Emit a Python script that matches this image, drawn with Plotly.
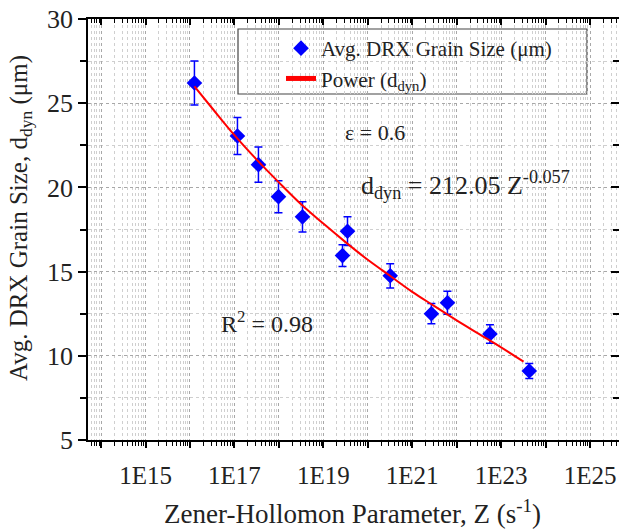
import plotly.graph_objects as go

# ---- data ----
z_vals = [1.26e16, 1.17e17, 3.47e17, 9.8e17, 3.4e18, 2.7e19, 3.5e19,
          3.2e20, 2.7e21, 6.2e21, 5.6e22, 4.3e23]
grain_size = [26.2, 23.05, 21.35, 19.45, 18.25, 15.95, 17.4,
              14.75, 12.5, 13.15, 11.3, 9.1]
grain_err = [1.3, 1.1, 1.05, 0.95, 0.9, 0.65, 0.85,
             0.72, 0.6, 0.68, 0.55, 0.45]

fit_z = [1.26e16, 3.16e16, 1e17, 3.16e17, 1e18, 3.16e18, 1e19, 3.16e19,
         1e20, 3.16e20, 1e21, 3.16e21, 1e22, 3.16e22, 1e23, 3.2e23]
fit_d = [26.0, 24.7, 23.1, 21.65, 20.3, 19.0, 17.85, 16.75,
         15.7, 14.75, 13.8, 12.95, 12.1, 11.3, 10.5, 9.65]

y_ticks = [5, 10, 15, 20, 25, 30]
y_minor = [7.5, 12.5, 17.5, 22.5, 27.5]
x_exps = list(range(13, 26))
x_major = [10.0 ** e for e in x_exps]
x_text = [("1E%d" % e) if e % 2 == 1 else "" for e in x_exps]
x_minor = [m * 10.0 ** e for e in x_exps for m in range(2, 10)]

FONT = "Liberation Serif, Times New Roman, serif"

# plot area at x 88..619, y 19..440 of a 619x530 page
L, T, PW, PH = 88, 19, 531, 421
W, H = 619, 530


def px(xpix):
    return (xpix - 88) / PW


def py(ypix):
    return (440 - ypix) / PH


fig = go.Figure()
fig.add_trace(go.Scatter(
    x=z_vals, y=grain_size, mode="markers",
    name="Avg. DRX Grain Size (μm)",
    marker=dict(symbol="diamond", size=12, color="#0000FF"),
    error_y=dict(type="data", array=grain_err, color="#0000FF",
                 thickness=1.5, width=4),
))
fig.add_trace(go.Scatter(
    x=fit_z, y=fit_d, mode="lines", line_shape="spline",
    name="Power (d<sub>dyn</sub>)",
    line=dict(color="#FF0000", width=2),
))
# invisible trace to host mirrored axes
fig.add_trace(go.Scatter(x=[], y=[], xaxis="x2", yaxis="y2",
                         showlegend=False, hoverinfo="skip"))

xr = [13.706, 25.652]
yr = [5, 30]

fig.update_layout(
    template="none",
    width=W, height=H,
    margin=dict(l=L, r=0, t=T, b=H - T - PH, autoexpand=False),
    paper_bgcolor="white", plot_bgcolor="white",
    font=dict(family=FONT, color="#222"),
    showlegend=True,
    legend=dict(x=px(281), y=py(28), xanchor="left", yanchor="top",
                bgcolor="rgba(0,0,0,0)", borderwidth=0,
                font=dict(family=FONT, size=21, color="#222"),
                tracegroupgap=0, itemsizing="constant"),
    xaxis=dict(
        type="log", range=xr, showline=True, linecolor="black", linewidth=1.5,
        mirror=False, ticks="outside", ticklen=6, tickwidth=2, tickcolor="black",
        tickmode="array", tickvals=x_major, ticktext=x_text,
        tickfont=dict(family=FONT, size=25, color="#222"),
        showgrid=True, gridcolor="#a8a8a8", griddash="dot", gridwidth=1,
        minor=dict(tickvals=x_minor, ticks="outside", ticklen=4, tickwidth=1,
                   tickcolor="black", showgrid=True, gridcolor="#cfcfcf",
                   griddash="dot", gridwidth=1),
        zeroline=False, ticklabelstandoff=6, automargin=False,
        ticklabeloverflow="allow",
    ),
    yaxis=dict(
        range=yr, showline=True, linecolor="black", linewidth=1.5,
        mirror=False, ticks="outside", ticklen=8, tickwidth=1.5, tickcolor="black",
        tickmode="array", tickvals=y_ticks,
        tickfont=dict(family=FONT, size=26, color="#222"),
        showgrid=True, gridcolor="#a8a8a8", griddash="dot", gridwidth=1,
        minor=dict(tickvals=y_minor, ticks="outside", ticklen=6, tickwidth=1.5,
                   tickcolor="black", showgrid=True, gridcolor="#cfcfcf",
                   griddash="dot", gridwidth=1),
        zeroline=False, automargin=False, ticklabeloverflow="allow",
    ),
    xaxis2=dict(
        type="log", range=xr, overlaying="x", side="top", anchor="y2",
        showline=True, linecolor="black", linewidth=1.5,
        ticks="inside", ticklen=6, tickwidth=2, tickcolor="black",
        tickmode="array", tickvals=x_major, showticklabels=False,
        showgrid=False, zeroline=False, automargin=False,
        minor=dict(tickvals=x_minor, ticks="inside", ticklen=4, tickwidth=1,
                   tickcolor="black", showgrid=False),
    ),
    yaxis2=dict(
        range=yr, overlaying="y", side="right", anchor="x2",
        showline=False, ticks="inside", ticklen=8, tickwidth=1.5,
        tickcolor="black", tickmode="array", tickvals=y_ticks,
        showticklabels=False, showgrid=False, zeroline=False, automargin=False,
        minor=dict(tickvals=y_minor, ticks="inside", ticklen=6,
                   tickwidth=1.5, tickcolor="black", showgrid=False),
    ),
)

# legend frame
fig.add_shape(type="rect", xref="paper", yref="paper",
              x0=px(238), x1=px(587), y0=py(94), y1=py(29),
              line=dict(color="#444", width=1.2), fillcolor="white",
              layer="below")

# axis titles
fig.add_annotation(xref="paper", yref="paper", x=px(352), y=py(512),
                   xanchor="center", yanchor="middle", showarrow=False,
                   text="Zener-Hollomon Parameter, Z (s<sup>-1</sup>)",
                   font=dict(family=FONT, size=27, color="#222"))
fig.add_annotation(xref="paper", yref="paper", x=px(20), y=py(218),
                   xanchor="center", yanchor="middle",
                   showarrow=False, textangle=-90,
                   text="Avg. DRX Grain Size, d<sub>dyn</sub> (μm)",
                   font=dict(family=FONT, size=25, color="#222"))

# in-plot texts
fig.add_annotation(xref="paper", yref="paper", x=px(375), y=py(132),
                   xanchor="center", yanchor="middle",
                   showarrow=False, text="ε = 0.6",
                   font=dict(family=FONT, size=22, color="#222"))
fig.add_annotation(xref="paper", yref="paper", x=px(465), y=py(185),
                   xanchor="center", yanchor="middle", showarrow=False,
                   text="d<sub>dyn</sub> = 212.05 Z<sup>-0.057</sup>",
                   font=dict(family=FONT, size=26, color="#222"))
fig.add_annotation(xref="paper", yref="paper", x=px(267), y=py(322),
                   xanchor="center", yanchor="middle",
                   showarrow=False, text="R<sup>2</sup> = 0.98",
                   font=dict(family=FONT, size=24, color="#222"))

fig.write_html(
    "out.html",
    config={"displayModeBar": False},
    post_script=("document.documentElement.style.overflow='hidden';"
                 "document.body.style.margin='0';"
                 "document.body.style.overflow='hidden';"),
)
